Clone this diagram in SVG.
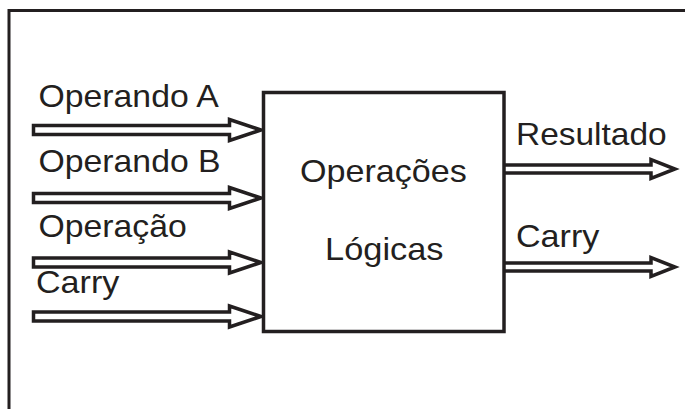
<svg xmlns="http://www.w3.org/2000/svg" width="685" height="409" viewBox="0 0 685 409">
  <style>
    .lbl { font-family: "Liberation Sans", Arial, sans-serif; font-size: 31px; fill: #231f20; }
    .arrow-in { fill: #ffffff; stroke: #231f20; stroke-width: 3.5; stroke-linejoin: miter; }
    .arrow-out { fill: #ffffff; stroke: #231f20; stroke-width: 3.5; stroke-linejoin: miter; }
    .frame { fill: none; stroke: #231f20; stroke-width: 3; }
    .block { fill: #ffffff; stroke: #231f20; stroke-width: 3.5; }
  </style>

  <!-- outer frame (top and left edges) -->
  <path class="frame" d="M9,409 V10.5 H685"/>

  <!-- connectors: hollow block arrows -->
  <g id="connectors">
    <!-- input arrows: shaft ±4.5, head ±10.5 -->
    <path class="arrow-in" d="M33.5,125.5 H229.5 V119.5 L261,130 L229.5,140.5 V134.5 H33.5 Z"/>
    <path class="arrow-in" d="M33.5,193.5 H229.5 V187.5 L261,198 L229.5,208.5 V202.5 H33.5 Z"/>
    <path class="arrow-in" d="M33.5,258 H229.5 V252 L261,262.5 L229.5,273 V267 H33.5 Z"/>
    <path class="arrow-in" d="M33.5,312 H229.5 V306 L261,316.5 L229.5,327 V321 H33.5 Z"/>
    <!-- output arrows -->
    <path class="arrow-out" d="M500,165 H651 V159.5 L675,169 L651,178.5 V173 H500"/>
    <path class="arrow-out" d="M500,263 H651 V257.5 L675,267 L651,276.5 V271 H500"/>
  </g>

  <!-- logic block (labels are slightly widened) -->
  <g id="node-logica">
    <rect class="block" x="263.5" y="92.5" width="240.5" height="239"/>
    <text class="lbl" transform="translate(300,181.5) scale(1.1,1)">Operações</text>
    <text class="lbl" transform="translate(325,260) scale(1.11,1)">Lógicas</text>
  </g>

  <!-- input labels -->
  <g id="in-operando-a">
    <text class="lbl" transform="translate(38.5,107) scale(1.09,1)">Operando A</text>
  </g>
  <g id="in-operando-b">
    <text class="lbl" transform="translate(38.5,171.5) scale(1.09,1)">Operando B</text>
  </g>
  <g id="in-operacao">
    <text class="lbl" transform="translate(38.5,236.5) scale(1.09,1)">Operação</text>
  </g>
  <g id="in-carry">
    <text class="lbl" transform="translate(36,293) scale(1.1,1)">Carry</text>
  </g>

  <!-- output labels -->
  <g id="out-resultado">
    <text class="lbl" transform="translate(516,145) scale(1.08,1)">Resultado</text>
  </g>
  <g id="out-carry">
    <text class="lbl" transform="translate(516,246.5) scale(1.1,1)">Carry</text>
  </g>
</svg>
